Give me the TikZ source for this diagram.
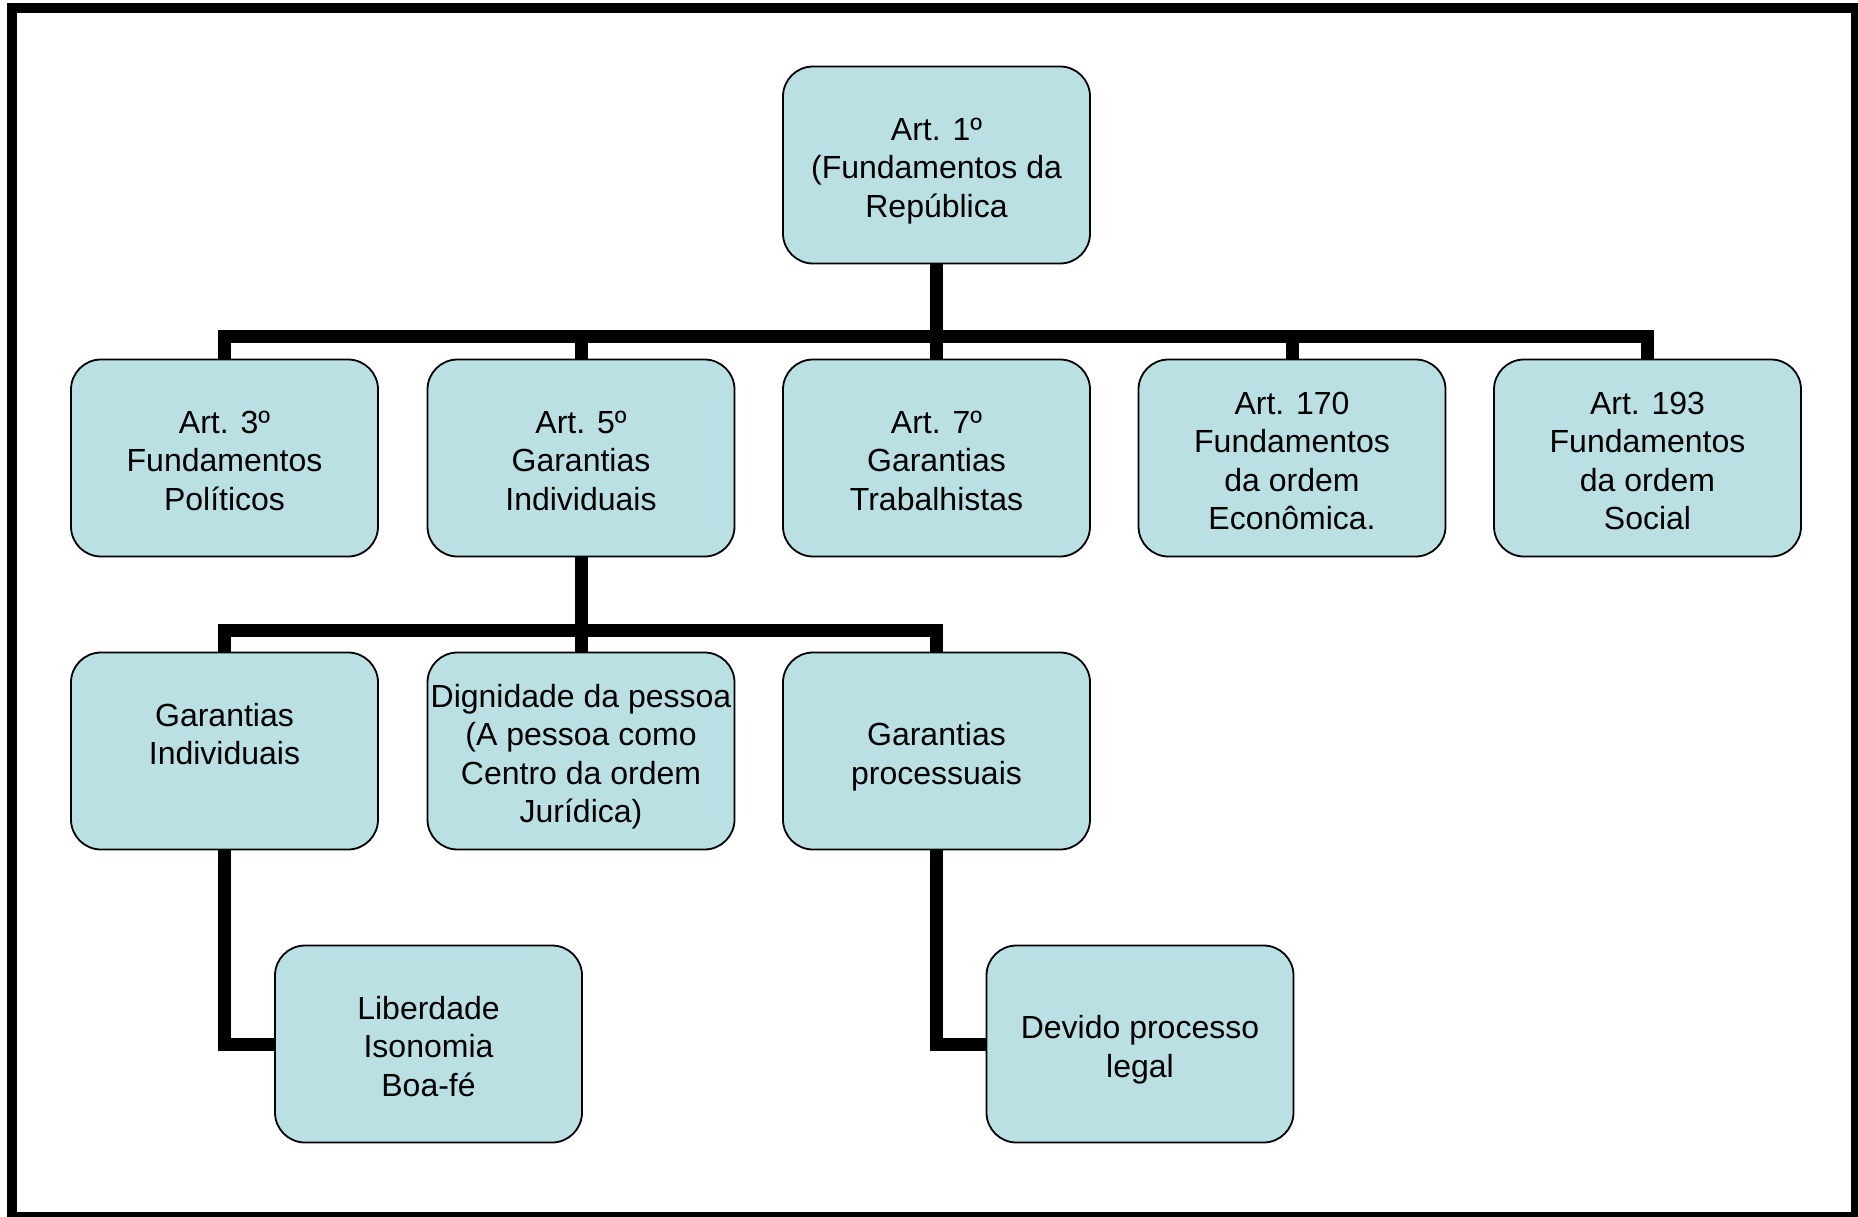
\documentclass[tikz,border=0pt]{standalone}
\usepackage{fontspec}
\setmainfont{Liberation Sans}
\definecolor{boxfill}{RGB}{186,224,228}
\begin{document}
\begin{tikzpicture}[x=0.5pt,y=-0.5pt,
  orgbox/.style={draw=black,line width=0.9pt,fill=boxfill,rounded corners=15pt,
    minimum width=153.5pt,minimum height=98.5pt,inner sep=0pt,align=center,
    font=\fontsize{16}{19.25}\selectfont,text depth=0pt},
  ltwo/.style={text height=33.2pt},
  lthree/.style={text height=52.45pt},
  lfour/.style={text height=71.7pt},
  conn/.style={line width=6.5pt,line join=miter,line cap=butt}]
\useasboundingbox (0,0) rectangle (1858,1216);
\draw[line width=5.3pt] (12,8) rectangle (1856.6,1217.3);

% nodes
\node[orgbox,lthree] (a1) at (936.5,165) {Art. 1º\\(Fundamentos da\\República};
\node[orgbox,lthree] (a3) at (224.5,458) {Art. 3º\\Fundamentos\\Políticos};
\node[orgbox,lthree] (a5) at (581,458) {Art. 5º\\Garantias\\Individuais};
\node[orgbox,lthree] (a7) at (936.5,458) {Art. 7º\\Garantias\\Trabalhistas};
\node[orgbox,lfour] (a170) at (1292,458) {Art. 170\\Fundamentos\\da ordem\\Econômica.};
\node[orgbox,lfour] (a193) at (1647.5,458) {Art. 193\\Fundamentos\\da ordem\\Social};
\node[orgbox,lthree] (gi) at (224.5,751) {Garantias\\Individuais\\\strut};
\node[orgbox,lfour] (dp) at (581,751) {Dignidade da pessoa\\(A pessoa como\\Centro da ordem\\Jurídica)};
\node[orgbox,ltwo] (gp) at (936.5,751) {Garantias\\processuais};
\node[orgbox,lthree] (lib) at (428.5,1044) {Liberdade\\Isonomia\\Boa-fé};
\node[orgbox,ltwo] (dev) at (1140,1044) {Devido processo\\legal};

\coordinate (bar1) at (0,336.5);
\coordinate (bar2) at (0,630.5);

% connectors
\draw[conn] (a1.south) -- (a1.south|-bar1);
\draw[conn] (a3.north) -- (a3.north|-bar1) -- (a193.north|-bar1) -- (a193.north);
\draw[conn] (a5.north|-bar1) -- (a5.north);
\draw[conn] (a7.north|-bar1) -- (a7.north);
\draw[conn] (a170.north|-bar1) -- (a170.north);
\draw[conn] (a5.south) -- (a5.south|-bar2);
\draw[conn] (gi.north) -- (gi.north|-bar2) -- (gp.north|-bar2) -- (gp.north);
\draw[conn] (dp.north|-bar2) -- (dp.north);
\draw[conn] (gi.south) |- (lib.west);
\draw[conn] (gp.south) |- (dev.west);
\end{tikzpicture}
\end{document}
